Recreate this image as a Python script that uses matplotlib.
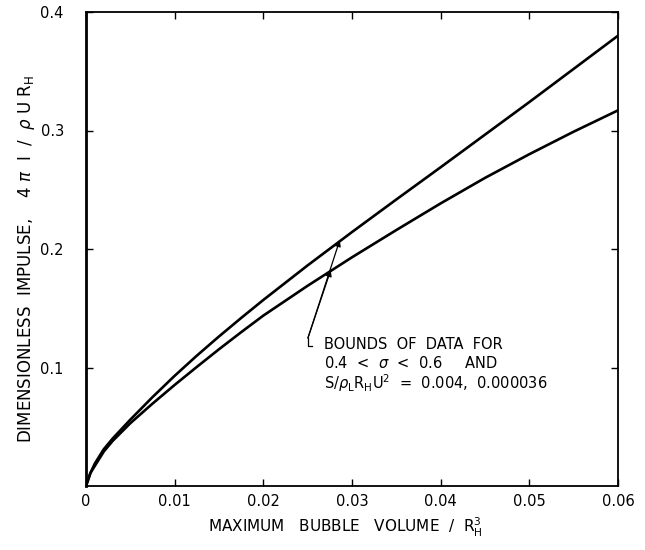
import matplotlib.pyplot as plt

# maximum bubble volume / R_H^3
volume = [0, 0.0005, 0.001, 0.002, 0.003, 0.005, 0.0075, 0.01, 0.0125, 0.015,
          0.0175, 0.02, 0.025, 0.03, 0.035, 0.04, 0.045, 0.05, 0.055, 0.06]
# upper and lower bounds of 4*pi*I / (rho U R_H)
upper = [0, 0.011, 0.019, 0.031, 0.040, 0.056, 0.075, 0.093, 0.110, 0.1262,
         0.1418, 0.157, 0.1862, 0.2143, 0.2418, 0.269, 0.2965, 0.324, 0.352, 0.380]
lower = [0, 0.011, 0.017, 0.029, 0.038, 0.053, 0.0695, 0.0853, 0.1005, 0.1154,
         0.1298, 0.1438, 0.169, 0.193, 0.216, 0.2385, 0.260, 0.280, 0.299, 0.317]

xticks = [0, 0.01, 0.02, 0.03, 0.04, 0.05, 0.06]
xlabels = ['0', '0.01', '0.02', '0.03', '0.04', '0.05', '0.06']
yticks = [0.1, 0.2, 0.3, 0.4]
ylabels = ['0.1', '0.2', '0.3', '0.4']

W, H = 645, 550
fig = plt.figure(figsize=(W / 100, H / 100), dpi=100)
ax = fig.add_axes([86 / W, 1 - 486 / H, (618 - 86) / W, (486 - 12) / H])

ax.plot(volume, upper, color='black', lw=1.9, solid_capstyle='round')
ax.plot(volume, lower, color='black', lw=1.9, solid_capstyle='round')

ax.set_xlim(0, 0.06)
ax.set_ylim(0, 0.4)
ax.set_xticks(xticks)
ax.set_xticklabels(xlabels)
ax.set_yticks(yticks)
ax.set_yticklabels(ylabels)
ax.tick_params(direction='in', length=5, width=1, top=True, right=True,
               labelsize=10.5)
ax.tick_params(axis='x', pad=6)
ax.tick_params(axis='y', pad=16)
for s in ax.spines.values():
    s.set_linewidth(1.3)
ax.spines['left'].set_linewidth(2)

# leader with arrowheads on both curves
base = (0.02503, 0.1249)
ax.annotate('', xy=(0.02862, 0.2075), xytext=base,
            arrowprops=dict(arrowstyle='-|>', color='black', lw=0.9,
                            mutation_scale=9, shrinkA=0, shrinkB=0))
ax.annotate('', xy=(0.02760, 0.1822), xytext=base,
            arrowprops=dict(arrowstyle='-|>', color='black', lw=0.9,
                            mutation_scale=9, shrinkA=0, shrinkB=0))
ax.plot([0.02503, 0.02503, 0.02548], [0.1249, 0.1181, 0.1181],
        color='black', lw=0.9)

tkw = dict(fontsize=10.5, va='center', ha='left')
ax.text(0.02683, 0.1190, 'BOUNDS  OF  DATA  FOR', **tkw)
ax.text(0.02683, 0.1035, r'0.4  <  $\sigma$  <  0.6     AND', **tkw)
ax.text(0.02683, 0.0865,
        r'S/$\rho_{\rm L}$R$_{\rm H}$U$^{\rm 2}$  =  0.004,  0.000036', **tkw)

fig.text(27 / W, 1 - 259 / H,
         r'DIMENSIONLESS  IMPULSE,    4 $\pi$  I  /  $\rho$ U R$_{\rm H}$',
         rotation=90, ha='center', va='center', fontsize=12)
fig.text(345 / W, 1 - 527 / H,
         r'MAXIMUM   BUBBLE   VOLUME  /  R$_{\rm H}^{\rm 3}$',
         ha='center', va='center', fontsize=11)

fig.savefig('out.png', dpi=100)
